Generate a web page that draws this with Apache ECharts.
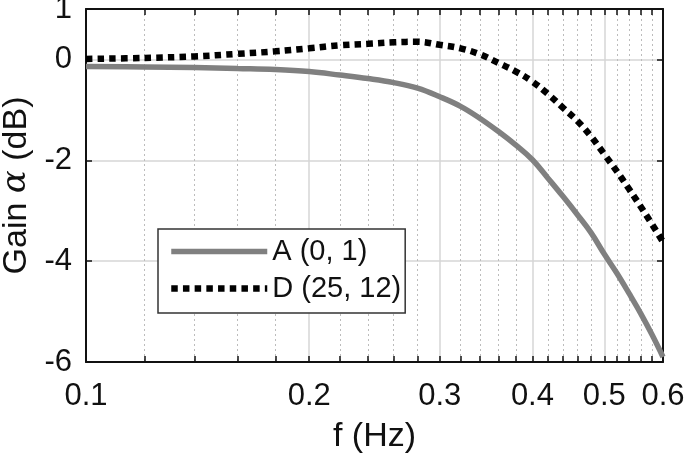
<!DOCTYPE html>
<html>
<head>
<meta charset="utf-8">
<script src="https://cdn.jsdelivr.net/npm/echarts@6/dist/echarts.min.js"></script>
<style>
  html, body { margin: 0; padding: 0; background: #fff; }
  #myChart { width: 685px; height: 460px; }
</style>
</head>
<body>
<div id="myChart"></div>
<script>
// frequencies (Hz) and gains (dB)
const freqs = [0.10, 0.12, 0.14, 0.16, 0.18, 0.20, 0.22, 0.24, 0.26, 0.28,
  0.30, 0.32, 0.34, 0.36, 0.38, 0.40, 0.42, 0.44, 0.46, 0.48,
  0.50, 0.52, 0.54, 0.56, 0.58, 0.60];
const gainA = [-0.14, -0.15, -0.16, -0.18, -0.20, -0.24, -0.31, -0.38, -0.46, -0.57,
  -0.74, -0.93, -1.17, -1.43, -1.70, -1.99, -2.36, -2.72, -3.08, -3.44,
  -3.86, -4.24, -4.64, -5.04, -5.46, -5.90];
const gainD = [0.01, 0.03, 0.06, 0.11, 0.16, 0.22, 0.28, 0.31, 0.34, 0.35,
  0.29, 0.22, 0.10, -0.07, -0.24, -0.44, -0.69, -0.96, -1.22, -1.53,
  -1.88, -2.22, -2.57, -2.92, -3.27, -3.62];
const seriesNames = ['A (0, 1)', 'D (25, 12)'];

const xMajor = [0.1, 0.2, 0.3, 0.4, 0.5, 0.6];
const xMinor = [0.12, 0.14, 0.16, 0.18, 0.22, 0.24, 0.26, 0.28, 0.32, 0.34, 0.36, 0.38,
  0.42, 0.44, 0.46, 0.48, 0.52, 0.54, 0.56, 0.58];
const yTicks = [-6, -4, -2, 0, 1];

const xTicksAll = xMajor.concat(xMinor);
const font = 'Liberation Sans, Arial, Helvetica, sans-serif';

const myChart = echarts.init(document.getElementById('myChart'));

// log x axis, used several times: labels / top frame / minor grid / major grid
function logAxis (extra) {
  return Object.assign({
    type: 'log',
    logBase: 10,
    min: 0.1,
    max: 0.6,
    axisLine: { show: false, onZero: false },
    axisTick: { show: false },
    axisLabel: { show: false },
    splitLine: { show: false }
  }, extra);
}

myChart.setOption({
  animation: false,
  backgroundColor: '#fff',
  textStyle: { fontFamily: font },
  grid: { left: 86, right: 22, top: 9, bottom: 98, containLabel: false, outerBoundsMode: 'none' },
  legend: {
    orient: 'vertical',
    left: 158,
    top: 229,
    padding: [8, 4, 10, 10],
    itemWidth: 96,
    itemHeight: 30,
    itemGap: 8,
    itemStyle: { opacity: 0 },
    lineStyle: { width: 'inherit' },
    backgroundColor: '#fff',
    borderColor: '#333',
    borderWidth: 1.5,
    borderRadius: 0,
    textStyle: { fontSize: 29, color: '#111', fontFamily: font },
    data: seriesNames
  },
  xAxis: [
    logAxis({
      position: 'bottom',
      axisLine: { show: true, onZero: false, lineStyle: { color: '#111', width: 2 } },
      axisTick: { show: true, inside: true, length: 6, customValues: xTicksAll, lineStyle: { color: '#111', width: 1.5 } },
      axisLabel: { show: true, customValues: xMajor, margin: 19, fontSize: 31, color: '#111', fontFamily: font },
      name: 'f (Hz)',
      nameLocation: 'middle',
      nameGap: 58,
      nameTextStyle: { fontSize: 34, color: '#111', fontFamily: font }
    }),
    logAxis({
      position: 'top',
      axisLine: { show: true, onZero: false, lineStyle: { color: '#111', width: 2 } },
      axisTick: { show: true, inside: true, length: 6, customValues: xTicksAll, lineStyle: { color: '#111', width: 1.5 } }
    }),
    logAxis({
      axisTick: { show: false, customValues: xMinor },
      splitLine: { show: true, lineStyle: { color: '#bcbcbc', width: 1, type: [2, 3] } }
    }),
    logAxis({
      axisTick: { show: false, customValues: xMajor },
      splitLine: { show: true, lineStyle: { color: '#d6d6d6', width: 1.5 } }
    })
  ],
  yAxis: [
    {
      type: 'value',
      min: -6,
      max: 1,
      position: 'left',
      axisLine: { show: true, onZero: false, lineStyle: { color: '#111', width: 2 } },
      axisTick: { show: true, inside: true, length: 6, customValues: yTicks, lineStyle: { color: '#111', width: 1.5 } },
      axisLabel: { customValues: yTicks, margin: 14, fontSize: 31, color: '#111', fontFamily: font },
      splitLine: { show: true, lineStyle: { color: '#d6d6d6', width: 1.5 } },
      name: 'Gain {a|α} (dB)',
      nameLocation: 'middle',
      nameGap: 52,
      nameTextStyle: {
        fontSize: 34,
        color: '#111',
        fontFamily: font,
        rich: {
          a: { fontSize: 34, color: '#111', fontFamily: 'DejaVu Serif', fontStyle: 'italic' }
        }
      }
    },
    {
      type: 'value',
      min: -6,
      max: 1,
      position: 'right',
      axisLine: { show: true, onZero: false, lineStyle: { color: '#111', width: 2 } },
      axisTick: { show: true, inside: true, length: 6, customValues: yTicks, lineStyle: { color: '#111', width: 1.5 } },
      axisLabel: { show: false },
      splitLine: { show: false }
    }
  ],
  series: [
    {
      name: seriesNames[0],
      type: 'line',
      xAxisIndex: 0,
      yAxisIndex: 0,
      symbol: 'none',
      smooth: 0.4,
      data: freqs.map((f, i) => [f, gainA[i]]),
      lineStyle: { color: '#808080', width: 5.5 },
      itemStyle: { color: '#808080' }
    },
    {
      name: seriesNames[1],
      type: 'line',
      xAxisIndex: 0,
      yAxisIndex: 0,
      symbol: 'none',
      smooth: 0.4,
      data: freqs.map((f, i) => [f, gainD[i]]),
      lineStyle: { color: '#000', width: 6.5, type: [6.5, 5.2], cap: 'butt' },
      itemStyle: { color: '#000' }
    }
  ]
});
window.addEventListener('resize', function () {
  myChart.resize();
});
</script>
</body>
</html>
